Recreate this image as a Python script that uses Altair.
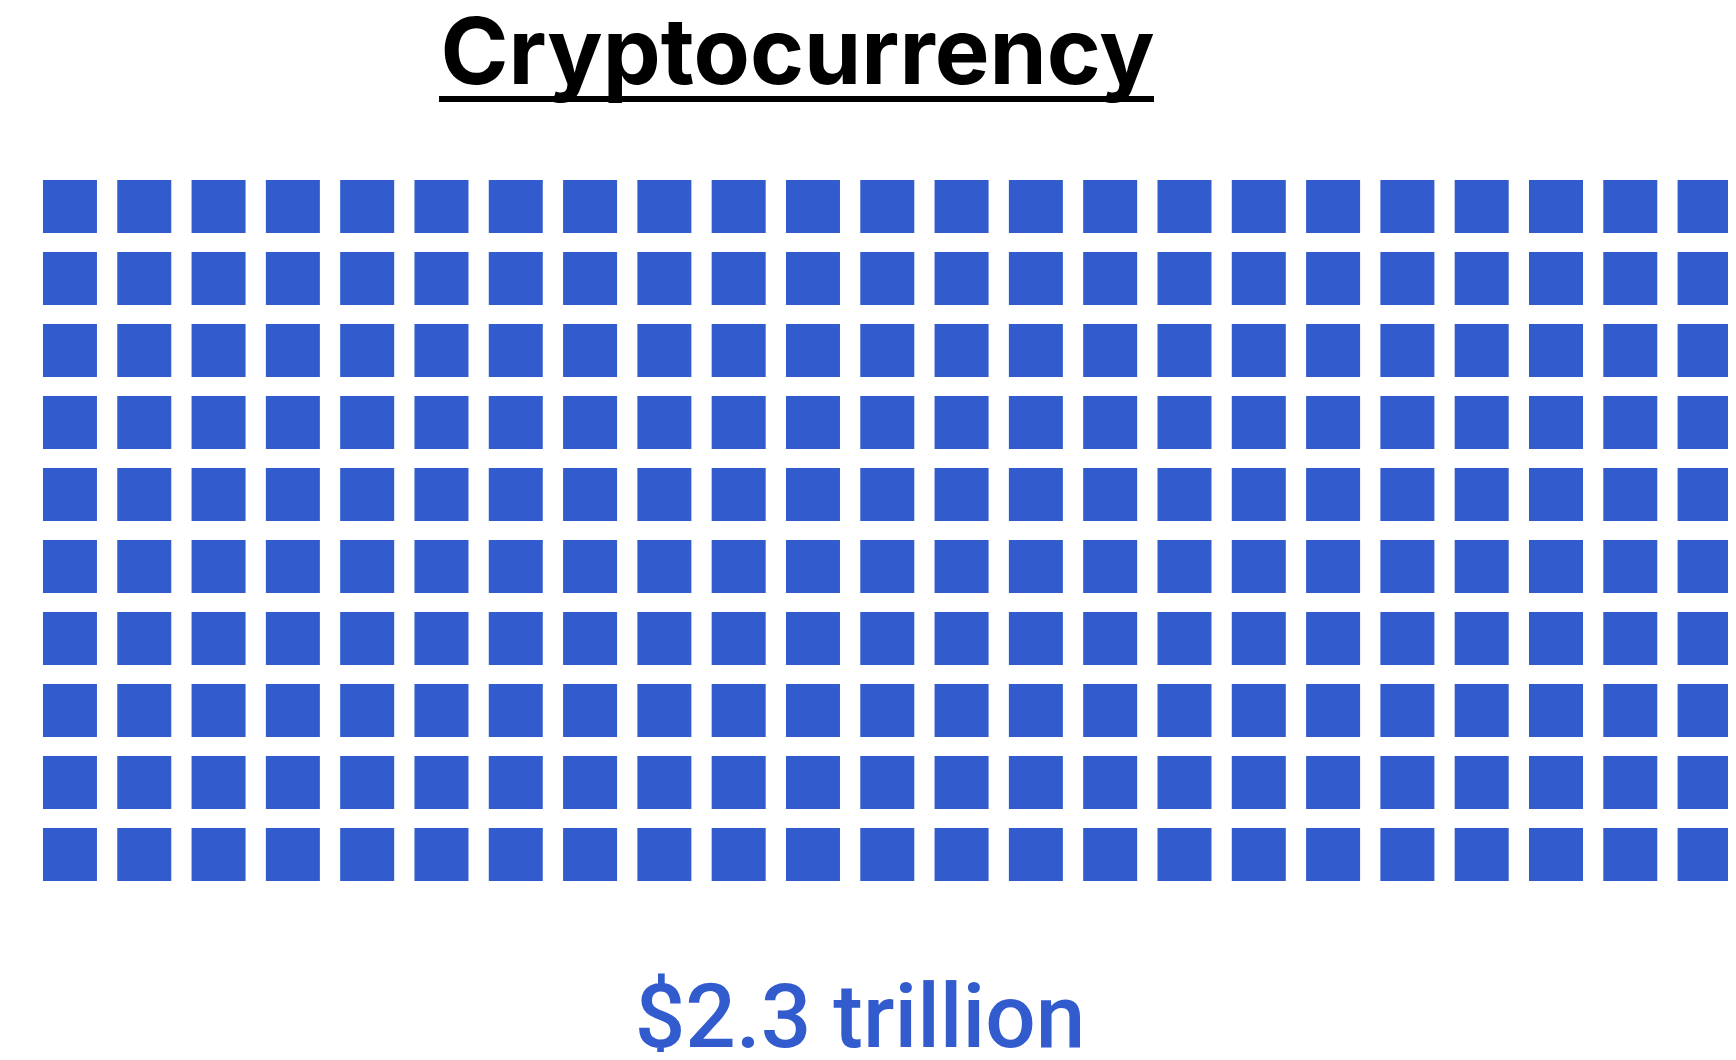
import altair as alt
import pandas as pd

# Waffle chart: each square = $10 billion, total $2.3 trillion
title_text = ["Cryptocurrency"]
value_label = ["$2.3 trillion"]
total_billion = 2300
billion_per_square = 10
n_columns = 23
n_rows = 10

n_squares = total_billion // billion_per_square  # 230

idx = list(range(n_squares))
cols = [i % n_columns for i in idx]
rows = [i // n_columns for i in idx]

hw = 0.3634
hh = 0.368
df = pd.DataFrame({
    "col": cols,
    "row": rows,
    "x0": [c - hw for c in cols],
    "x1": [c + hw for c in cols],
    "y0": [r - hh for r in rows],
    "y1": [r + hh for r in rows],
})

W, H = 1720, 1044
BLUE = "#325BCE"

xscale = alt.Scale(domain=[-0.834, 22.315], nice=False, zero=False)
yscale = alt.Scale(domain=[-2.757, 11.743], nice=False, zero=False, reverse=True)

squares = alt.Chart(df).mark_rect(color=BLUE).encode(
    x=alt.X("x0:Q", scale=xscale, axis=None),
    x2="x1:Q",
    y=alt.Y("y0:Q", scale=yscale, axis=None),
    y2="y1:Q",
)

title = alt.Chart(pd.DataFrame({"t": title_text})).mark_text(
    font="Inter", fontSize=92, fontWeight="bold", color="#000000",
    align="center", baseline="alphabetic",
).encode(text="t:N", x=alt.value(789.5), y=alt.value(75.5))

underline = alt.Chart(pd.DataFrame({"t": title_text})).mark_rule(
    color="#000000", strokeWidth=6
).encode(x=alt.value(431), x2=alt.value(1146), y=alt.value(91))

label = alt.Chart(pd.DataFrame({"t": value_label})).mark_text(
    font="Roboto", fontSize=89, fontWeight=500, color=BLUE,
    align="center", baseline="alphabetic",
).encode(text="t:N", x=alt.value(852), y=alt.value(1039))

chart = alt.layer(squares, underline, title, label).properties(
    width=W, height=H, padding=0, autosize=alt.AutoSizeParams(type="none"),
    background="#ffffff",
).configure_view(stroke=None)

chart.save("out.html", embed_options={"renderer": "svg", "actions": False})
